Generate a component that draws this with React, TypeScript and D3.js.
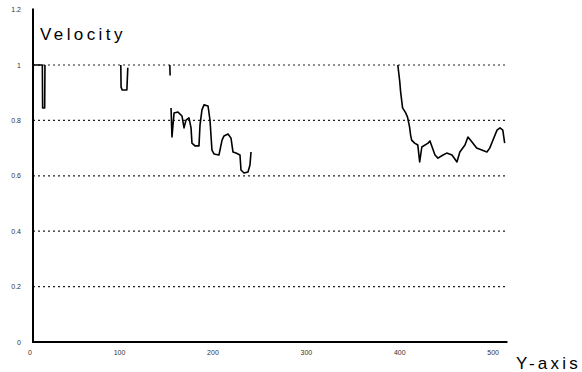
import React, { useEffect, useRef } from 'react'
import * as d3 from 'd3'

// distance along the run, with null marking a gap in the trace
const distance: (number | null)[] = [
  0, 10, 10.3, 12.5, 12.8, null,
  94, 94.3, 95.5, 100.5, 101.5, null,
  146.5, 146.8, null,
  147.8, 148.8, 151, 155.2, 159.5, 161.7, 163.8, 167, 169.2, 170.2, 173.4, 177.7, 178.8,
  180.9, 183.1, 187.4, 189.5, 191.6, 193.8, 199.1, 202.4, 204.5, 208.8, 212, 214.1, 217.3,
  221.6, 222.7, 225.9, 230.2, 232.3, 233.4, null,
  390.6, 392.7, 393.6, 395.7, 399, 401, 403.2, 404.3, 405.4, 408.6, 412, 414, 416.3, 423,
  425, 430.4, 433.6, 439, 443, 448.6, 453.9, 457, 462.5, 465.7, 470, 475, 480.5, 486, 489,
  492.5, 496.8, 500, 503, 505,
]

const velocity: (number | null)[] = [
  1, 1, 0.845, 0.845, 1, null,
  1, 0.92, 0.91, 0.91, 0.99, null,
  1, 0.962, null,
  0.845, 0.74, 0.827, 0.83, 0.816, 0.773, 0.801, 0.809, 0.773, 0.718, 0.708, 0.708, 0.783,
  0.838, 0.856, 0.852, 0.801, 0.693, 0.679, 0.675, 0.729, 0.744, 0.751, 0.736, 0.686, 0.682,
  0.675, 0.621, 0.61, 0.614, 0.639, 0.686, null,
  1, 0.939, 0.903, 0.845, 0.827, 0.812, 0.776, 0.747, 0.729, 0.718, 0.711, 0.65, 0.704, 0.718,
  0.726, 0.675, 0.664, 0.675, 0.682, 0.675, 0.65, 0.686, 0.711, 0.74, 0.722, 0.7, 0.693, 0.686, 0.7,
  0.729, 0.765, 0.773, 0.765, 0.718,
]

const xTicks = [0, 100, 200, 300, 400, 500]
const yTicks = [0, 0.2, 0.4, 0.6, 0.8, 1, 1.2]
const gridLevels = [0.2, 0.4, 0.6, 0.8, 1]

const W = 582
const H = 372

const App = () => {
  const ref = useRef<SVGSVGElement>(null)

  useEffect(() => {
    const svg = d3.select(ref.current)
    svg.selectAll('*').remove()

    const x = d3.scaleLinear().domain([0, 500]).range([33, 500])
    const y = d3.scaleLinear().domain([0, 1.2]).range([342, 9.6])
    const xEnd = 508

    // dotted gridlines
    svg.append('g')
      .selectAll('line')
      .data(gridLevels)
      .enter()
      .append('line')
      .attr('x1', x(0))
      .attr('x2', x(xEnd))
      .attr('y1', d => y(d))
      .attr('y2', d => y(d))
      .attr('stroke', '#222')
      .attr('stroke-width', 1.2)
      .attr('stroke-dasharray', '2,3')

    // axes
    svg.append('line')
      .attr('x1', x(0)).attr('x2', x(0))
      .attr('y1', y(1.2) - 1).attr('y2', y(0))
      .attr('stroke', '#000').attr('stroke-width', 2)
    svg.append('line')
      .attr('x1', x(0) - 1).attr('x2', x(xEnd))
      .attr('y1', y(0)).attr('y2', y(0))
      .attr('stroke', '#000').attr('stroke-width', 2)

    svg.append('g')
      .selectAll('text')
      .data(yTicks)
      .enter()
      .append('text')
      .attr('x', 21)
      .attr('y', d => y(d) + 2.5)
      .attr('text-anchor', 'end')
      .attr('font-family', 'Liberation Sans, Arial, sans-serif')
      .attr('font-size', 7)
      .attr('fill', '#333')
      .text(d => String(d))

    svg.append('g')
      .selectAll('text')
      .data(xTicks)
      .enter()
      .append('text')
      .attr('x', d => x(d) - 1)
      .attr('y', 355)
      .attr('text-anchor', 'end')
      .attr('font-family', 'Liberation Sans, Arial, sans-serif')
      .attr('font-size', 7)
      .attr('fill', '#333')
      .text(d => String(d))

    const pts = distance.map((d, i) => [d, velocity[i]] as [number | null, number | null])
    const line = d3.line<[number | null, number | null]>()
      .defined(d => d[0] !== null && d[1] !== null)
      .x(d => x(d[0] as number))
      .y(d => y(d[1] as number))

    svg.append('path')
      .datum(pts)
      .attr('fill', 'none')
      .attr('stroke', '#000')
      .attr('stroke-width', 1.6)
      .attr('stroke-linejoin', 'round')
      .attr('d', line)

    svg.append('text')
      .attr('x', 40)
      .attr('y', 40)
      .attr('font-family', 'Liberation Sans, Arial, sans-serif')
      .attr('font-size', 17)
      .attr('letter-spacing', 3.4)
      .attr('fill', '#000')
      .text('Velocity')

    svg.append('text')
      .attr('x', 516)
      .attr('y', 369)
      .attr('font-family', 'Liberation Sans, Arial, sans-serif')
      .attr('font-size', 17)
      .attr('letter-spacing', 3.2)
      .attr('fill', '#000')
      .text('Y-axis')

    return () => { svg.selectAll('*').remove() }
  }, [])

  return (
    <svg
      ref={ref}
      width={W}
      height={H}
      style={{ position: 'absolute', left: 0, top: 0, background: '#fff' }}
    />
  )
}

export default App
